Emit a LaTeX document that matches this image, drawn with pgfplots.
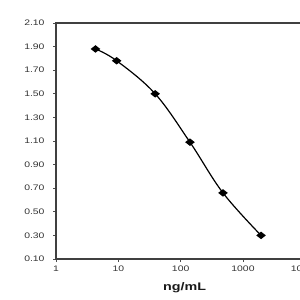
\documentclass[border=0pt]{standalone}
\usepackage{pgfplots}
\pgfplotsset{compat=1.18}
\usepackage{fontspec}
\setmainfont{Liberation Sans}
\begin{document}
\begin{tikzpicture}[x=1pt,y=1pt]
\path[use as bounding box] (0,0) rectangle (300,300);
\clip (0,0) rectangle (300,300);
\begin{axis}[
  at={(56pt,41pt)}, anchor=south west,
  scale only axis, width=249.3pt, height=236pt,
  xmode=log, xmin=1, xmax=10000, ymin=0.1, ymax=2.1,
  xtick={1,10,100,1000,10000},
  xticklabels={1,10,100,1000,10000},
  minor xtick={}, xminorticks=false,
  ytick={0.1,0.3,0.5,0.7,0.9,1.1,1.3,1.5,1.7,1.9,2.1},
  yticklabel style={/pgf/number format/fixed, /pgf/number format/fixed zerofill, /pgf/number format/precision=2, xshift=-3pt},
  /pgf/number format/assume math mode=true,
  tick label style={font=\fontsize{8}{9}\selectfont, text=black!80, xscale=1.3},
  tick align=outside, major tick length=3pt,
  xtick pos=left, ytick pos=left,
  tick style={black!70, line width=0.8pt},
  axis line style={black!75, line width=1.4pt},
  xlabel={\textbf{ng/mL}},
  xlabel style={font=\fontsize{11}{12}\selectfont, text=black!90, xscale=1.3, xshift=3pt, yshift=-4pt},
  clip=false,
]
\addplot[black, line width=1.2pt, smooth, tension=0.6,
  mark=diamond*, mark size=3pt, mark options={xscale=1.7, solid, fill=black}]
  coordinates {(4.3,1.88) (9.4,1.78) (39,1.50) (141,1.09) (478,0.66) (1950,0.30)};
\end{axis}
\end{tikzpicture}
\end{document}
